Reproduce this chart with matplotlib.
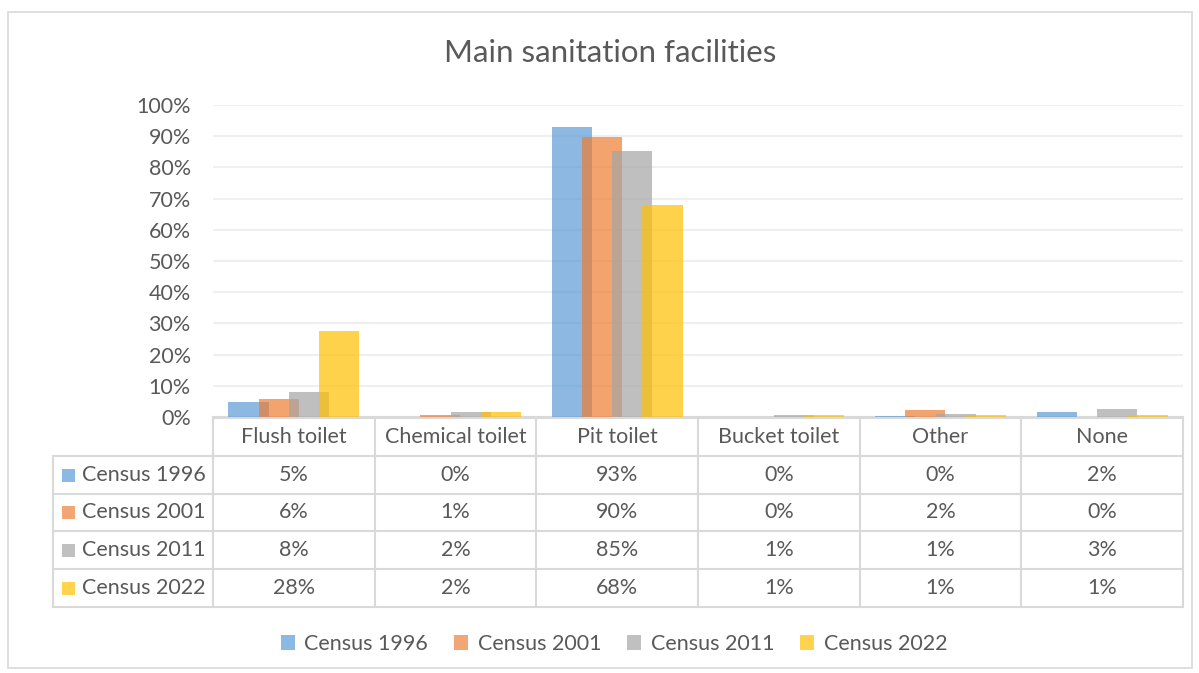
import numpy as np
import matplotlib.pyplot as plt
from matplotlib.patches import Rectangle
from matplotlib.lines import Line2D

plt.rcParams['font.family'] = ['Lato', 'DejaVu Sans']

categories = ["Flush toilet", "Chemical toilet", "Pit toilet",
              "Bucket toilet", "Other", "None"]
series = ["Census 1996", "Census 2001", "Census 2011", "Census 2022"]
census_1996 = [4.8, 0.1, 92.8, 0.1, 0.2, 1.6]
census_2001 = [5.9, 0.6, 89.8, 0.1, 2.1, 0.1]
census_2011 = [8.1, 1.6, 85.2, 0.6, 1.1, 2.6]
census_2022 = [27.7, 1.6, 67.9, 0.6, 0.7, 0.7]
values = [census_1996, census_2001, census_2011, census_2022]
colors = ["#5B9BD5", "#ED7D31", "#A5A5A5", "#FFC000"]
legend_colors = ["#8cb9e3", "#f2a575", "#c0c0c0", "#ffd34d"]

TXT = "#595959"
GRID = "#d9d9d9"
FS = 15.5
W, H = 1199, 673


def fx(x):
    return x / W


def fy(y):
    return 1 - y / H


fig = plt.figure(figsize=(W / 100, H / 100), dpi=100)
ax = fig.add_axes([fx(213), fy(417), fx(1183) - fx(213), fy(105) - fy(417)])

x = np.arange(len(categories))
step = 0.187
width = 0.248
for i, (name, vals) in enumerate(zip(series, values)):
    ax.bar(x + (i - 1.5) * step, vals, width, color=colors[i], alpha=0.7,
           label=name, zorder=3)

ax.set_xlim(-0.5, len(categories) - 0.5)
ax.set_ylim(0, 100)
ax.set_yticks(np.arange(0, 101, 10))
ax.set_yticklabels([f"{v}%" for v in range(0, 101, 10)], fontsize=FS, color=TXT)
ax.tick_params(axis="y", length=0, pad=16)
ax.set_xticks([])
ax.grid(axis="y", color="#efefef", linewidth=1.5, zorder=0)
for s in ["top", "right", "left"]:
    ax.spines[s].set_visible(False)
ax.spines["bottom"].set_color(GRID)
ax.spines["bottom"].set_linewidth(1.5)

fig.text(fx(610), fy(53), "Main sanitation facilities", ha="center", va="center",
         fontsize=22.5, color=TXT)

# data table below the plot
pos = ax.get_position()
col_edges = [pos.x0 + pos.width * i / len(categories) for i in range(len(categories) + 1)]
row_edges = [fy(y) for y in [418, 456, 494, 531, 569, 607]]
left_edge = fx(53)


def line(xs, ys):
    fig.add_artist(Line2D(xs, ys, color=GRID, linewidth=1.5, transform=fig.transFigure))


# horizontal lines
line([col_edges[0], col_edges[-1]], [row_edges[0], row_edges[0]])
for r in row_edges[1:]:
    line([left_edge, col_edges[-1]], [r, r])
# vertical lines
for c in col_edges:
    line([c, c], [row_edges[0], row_edges[-1]])
line([left_edge, left_edge], [row_edges[1], row_edges[-1]])

for j, cat in enumerate(categories):
    cx = (col_edges[j] + col_edges[j + 1]) / 2
    cy = (row_edges[0] + row_edges[1]) / 2
    fig.text(cx, cy, cat, ha="center", va="center", fontsize=FS, color=TXT)

for i, (name, vals) in enumerate(zip(series, values)):
    cy = (row_edges[i + 1] + row_edges[i + 2]) / 2
    fig.add_artist(Rectangle((fx(62), cy - 6.5 / H), 13 / W, 13 / H,
                             facecolor=legend_colors[i], edgecolor="none",
                             transform=fig.transFigure))
    fig.text(fx(82), cy, name, ha="left", va="center", fontsize=FS, color=TXT)
    for j, v in enumerate(vals):
        cx = (col_edges[j] + col_edges[j + 1]) / 2
        fig.text(cx, cy, f"{v:.0f}%", ha="center", va="center", fontsize=FS, color=TXT)

# legend
handles = [Rectangle((0, 0), 1, 1, facecolor=c, edgecolor="none") for c in legend_colors]
fig.legend(handles, series, loc="center", bbox_to_anchor=(fx(614), fy(644)),
           ncol=4, frameon=False, fontsize=FS, labelcolor=TXT,
           handlelength=0.65, handleheight=0.65, handletextpad=0.45,
           columnspacing=1.2)

# chart border
fig.add_artist(Rectangle((fx(8), fy(668)), fx(1192) - fx(8), fy(12) - fy(668),
                         facecolor="none", edgecolor=GRID, linewidth=1.2,
                         transform=fig.transFigure))

fig.savefig("out.png", dpi=100)
